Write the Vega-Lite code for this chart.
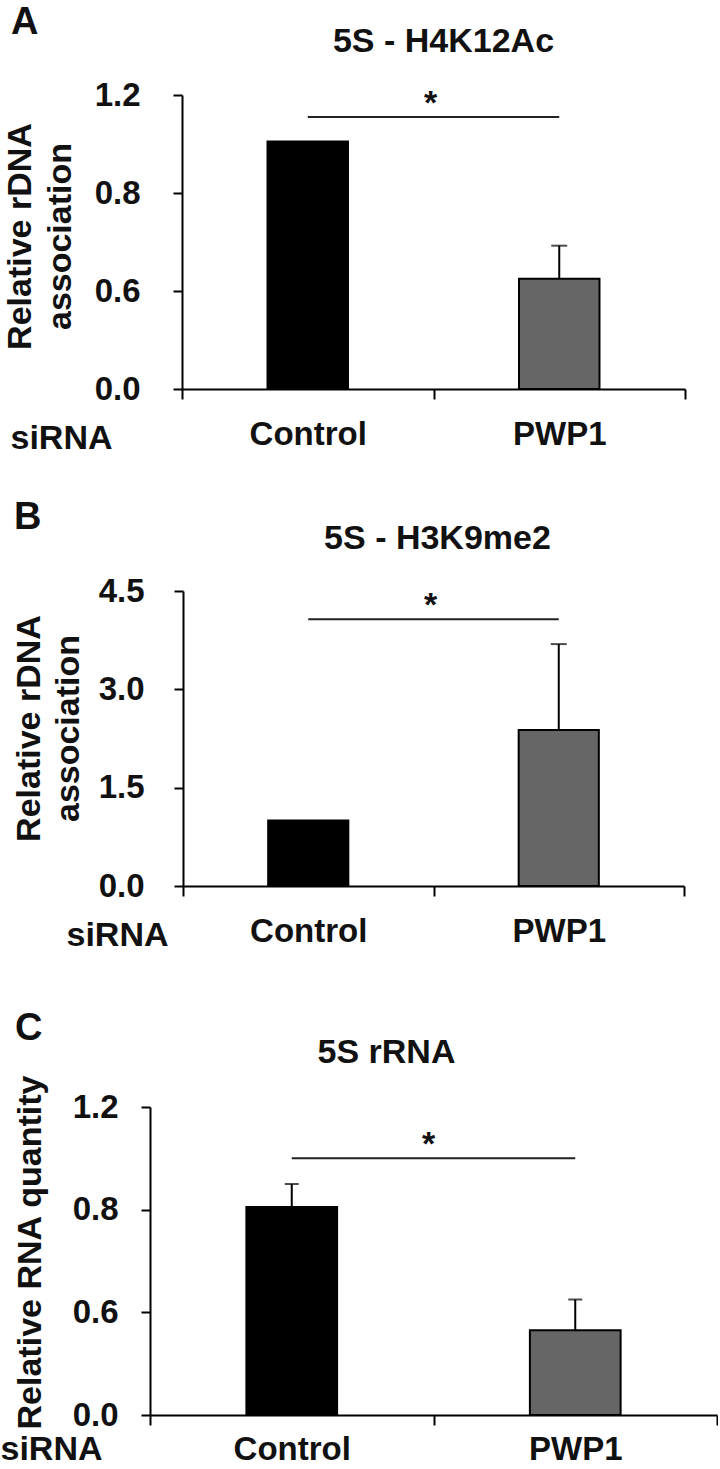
{
  "$schema": "https://vega.github.io/schema/vega-lite/v6.json",
  "padding": {"top": 3, "left": 0, "right": 0, "bottom": 0},
  "background": "white",
  "spacing": 43,
  "center": true,
  "config": {
    "font": "Liberation Sans",
    "view": {"stroke": null},
    "axis": {
      "labelFont": "Liberation Sans", "labelFontWeight": "bold", "labelFontSize": 33, "labelColor": "#111",
      "titleFont": "Liberation Sans", "titleFontWeight": "bold", "titleFontSize": 34, "titleColor": "#111",
      "domainColor": "#000", "domainWidth": 2, "tickColor": "#000", "tickWidth": 2, "grid": false
    },
    "title": {"font": "Liberation Sans", "fontWeight": "bold", "fontSize": 34, "color": "#111"}
  },
  "vconcat": [
    {
      "title": {"text": "A", "anchor": "start", "frame": "bounds", "fontSize": 38, "offset": -16.5, "dx": 8},
      "vconcat": [
        {
          "width": 503, "height": 294,
          "title": {"text": "5S - H4K12Ac", "dx": 10, "offset": 20},
          "data": {"values": [
            {"siRNA": "Control", "value": 1.01},
            {"siRNA": "PWP1", "value": 0.45, "upper": 0.585}
          ]},
          "encoding": {
            "x": {"field": "siRNA", "type": "nominal",
              "scale": {"domain": ["Control", "PWP1"], "paddingInner": 0, "paddingOuter": 0},
              "axis": {"title": "siRNA", "labelAngle": 0, "tickBand": "extent", "tickSize": 10, "labelPadding": 19,
                "titleX": -172, "titleY": 59, "titleAlign": "left", "titleBaseline": "alphabetic", "titleAnchor": "start"}}
          },
          "layer": [
            {"mark": {"type": "bar", "width": {"band": 0.32}, "stroke": "#000", "strokeWidth": 2},
             "encoding": {
               "y": {"field": "value", "type": "quantitative", "scale": {"domain": [0, 1.2]},
                 "axis": {"values": [0, 0.4, 0.8, 1.2], "labelExpr": "datum.value == 0.4 ? '0.6' : format(datum.value, '.1f')",
                   "title": ["Relative rDNA", "association"], "titleAngle": -90, "titleX": -152, "titleY": 141,
                   "titleAlign": "center", "titleBaseline": "alphabetic", "titleLineHeight": 40,
                   "tickSize": 9, "labelPadding": 33}},
               "color": {"field": "siRNA", "type": "nominal", "scale": {"domain": ["Control", "PWP1"], "range": ["#000000", "#666666"]}, "legend": null}}},
            {"transform": [{"filter": "isValid(datum.upper)"}],
             "mark": {"type": "rule", "strokeWidth": 2, "color": "#000"},
             "encoding": {"y": {"field": "value", "type": "quantitative"}, "y2": {"field": "upper"}}},
            {"transform": [{"filter": "isValid(datum.upper)"}],
             "mark": {"type": "tick", "size": 16, "thickness": 2, "color": "#000"},
             "encoding": {"y": {"field": "upper", "type": "quantitative"}}},
            {"data": {"values": [{"from": "Control", "to": "PWP1", "y": 1.11, "label": "*"}]},
             "mark": {"type": "rule", "strokeWidth": 2, "color": "#222"},
             "encoding": {"x": {"field": "from", "type": "nominal"}, "x2": {"field": "to"}, "y": {"field": "y", "type": "quantitative"}}},
            {"data": {"values": [{"from": "Control", "to": "PWP1", "y": 1.11, "label": "*"}]},
             "mark": {"type": "text", "fontSize": 34, "fontWeight": "bold", "baseline": "alphabetic", "dy": -3, "dx": -3, "color": "#111"},
             "encoding": {"x": {"field": "to", "type": "nominal", "bandPosition": 0}, "y": {"field": "y", "type": "quantitative"}, "text": {"field": "label"}}}
          ]
        }
      ]
    },
    {
      "title": {"text": "B", "anchor": "start", "frame": "bounds", "fontSize": 38, "offset": -14.5, "dx": 2},
      "vconcat": [
        {
          "width": 501, "height": 295,
          "title": {"text": "5S - H3K9me2", "dx": 4, "offset": 19},
          "data": {"values": [
            {"siRNA": "Control", "value": 1.0},
            {"siRNA": "PWP1", "value": 2.38, "upper": 3.69}
          ]},
          "encoding": {
            "x": {"field": "siRNA", "type": "nominal",
              "scale": {"domain": ["Control", "PWP1"], "paddingInner": 0, "paddingOuter": 0},
              "axis": {"title": "siRNA", "labelAngle": 0, "tickBand": "extent", "tickSize": 10, "labelPadding": 19,
                "titleX": -117, "titleY": 59, "titleAlign": "left", "titleBaseline": "alphabetic", "titleAnchor": "start"}}
          },
          "layer": [
            {"mark": {"type": "bar", "width": {"band": 0.32}, "stroke": "#000", "strokeWidth": 2},
             "encoding": {
               "y": {"field": "value", "type": "quantitative", "scale": {"domain": [0, 4.5]},
                 "axis": {"values": [0, 1.5, 3, 4.5], "format": ".1f",
                   "title": ["Relative rDNA", "association"], "titleAngle": -90, "titleX": -144, "titleY": 137,
                   "titleAlign": "center", "titleBaseline": "alphabetic", "titleLineHeight": 39,
                   "tickSize": 9, "labelPadding": 30}},
               "color": {"field": "siRNA", "type": "nominal", "scale": {"domain": ["Control", "PWP1"], "range": ["#000000", "#666666"]}, "legend": null}}},
            {"transform": [{"filter": "isValid(datum.upper)"}],
             "mark": {"type": "rule", "strokeWidth": 2, "color": "#000"},
             "encoding": {"y": {"field": "value", "type": "quantitative"}, "y2": {"field": "upper"}}},
            {"transform": [{"filter": "isValid(datum.upper)"}],
             "mark": {"type": "tick", "size": 16, "thickness": 2, "color": "#000"},
             "encoding": {"y": {"field": "upper", "type": "quantitative"}}},
            {"data": {"values": [{"from": "Control", "to": "PWP1", "y": 4.07, "label": "*"}]},
             "mark": {"type": "rule", "strokeWidth": 2, "color": "#222"},
             "encoding": {"x": {"field": "from", "type": "nominal"}, "x2": {"field": "to"}, "y": {"field": "y", "type": "quantitative"}}},
            {"data": {"values": [{"from": "Control", "to": "PWP1", "y": 4.07, "label": "*"}]},
             "mark": {"type": "text", "fontSize": 34, "fontWeight": "bold", "baseline": "alphabetic", "dy": -3, "dx": -3, "color": "#111"},
             "encoding": {"x": {"field": "to", "type": "nominal", "bandPosition": 0}, "y": {"field": "y", "type": "quantitative"}, "text": {"field": "label"}}}
          ]
        }
      ]
    },
    {
      "title": {"text": ["", "C"], "anchor": "start", "frame": "bounds", "fontSize": 38, "lineHeight": 14, "offset": -11.5, "dx": 15},
      "vconcat": [
        {
          "width": 567, "height": 308,
          "title": {"text": "5S rRNA", "dx": -47, "offset": 4},
          "data": {"values": [
            {"siRNA": "Control", "value": 0.81, "upper": 0.90},
            {"siRNA": "PWP1", "value": 0.33, "upper": 0.45}
          ]},
          "encoding": {
            "x": {"field": "siRNA", "type": "nominal",
              "scale": {"domain": ["Control", "PWP1"], "paddingInner": 0, "paddingOuter": 0},
              "axis": {"title": "siRNA", "labelAngle": 0, "tickBand": "extent", "tickSize": 10, "labelPadding": 8,
                "titleX": -150, "titleY": 44, "titleAlign": "left", "titleBaseline": "alphabetic", "titleAnchor": "start"}}
          },
          "layer": [
            {"mark": {"type": "bar", "width": {"band": 0.32}, "stroke": "#000", "strokeWidth": 2},
             "encoding": {
               "y": {"field": "value", "type": "quantitative", "scale": {"domain": [0, 1.2]},
                 "axis": {"values": [0, 0.4, 0.8, 1.2], "labelExpr": "datum.value == 0.4 ? '0.6' : format(datum.value, '.1f')",
                   "title": "Relative RNA quantity", "titleAngle": -90, "titleX": -110, "titleY": 145,
                   "titleAlign": "center", "titleBaseline": "alphabetic",
                   "tickSize": 9, "labelPadding": 23}},
               "color": {"field": "siRNA", "type": "nominal", "scale": {"domain": ["Control", "PWP1"], "range": ["#000000", "#666666"]}, "legend": null}}},
            {"transform": [{"filter": "isValid(datum.upper)"}],
             "mark": {"type": "rule", "strokeWidth": 2, "color": "#000"},
             "encoding": {"y": {"field": "value", "type": "quantitative"}, "y2": {"field": "upper"}}},
            {"transform": [{"filter": "isValid(datum.upper)"}],
             "mark": {"type": "tick", "size": 14, "thickness": 2, "color": "#000"},
             "encoding": {"y": {"field": "upper", "type": "quantitative"}}},
            {"data": {"values": [{"from": "Control", "to": "PWP1", "y": 1.0, "label": "*"}]},
             "mark": {"type": "rule", "strokeWidth": 2, "color": "#222"},
             "encoding": {"x": {"field": "from", "type": "nominal"}, "x2": {"field": "to"}, "y": {"field": "y", "type": "quantitative"}}},
            {"data": {"values": [{"from": "Control", "to": "PWP1", "y": 1.0, "label": "*"}]},
             "mark": {"type": "text", "fontSize": 34, "fontWeight": "bold", "baseline": "alphabetic", "dy": -3, "dx": -5, "color": "#111"},
             "encoding": {"x": {"field": "to", "type": "nominal", "bandPosition": 0}, "y": {"field": "y", "type": "quantitative"}, "text": {"field": "label"}}}
          ]
        }
      ]
    }
  ]
}
